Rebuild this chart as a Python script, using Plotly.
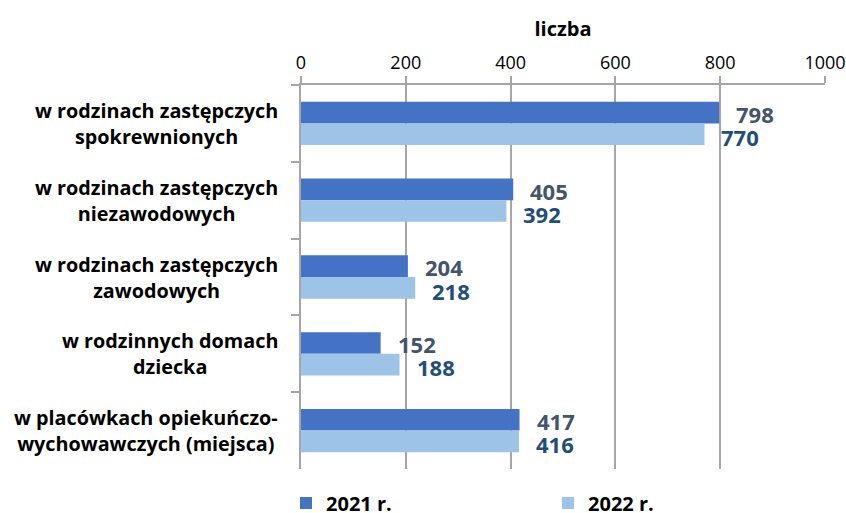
import plotly.graph_objects as go

categories = [
    "w rodzinach zastępczych<br>spokrewnionych",
    "w rodzinach zastępczych<br>niezawodowych",
    "w rodzinach zastępczych<br>zawodowych",
    "w rodzinnych domach<br>dziecka",
    "w placówkach opiekuńczo-<br>wychowawczych (miejsca)",
]
values_2021 = [798, 405, 204, 152, 417]
values_2022 = [770, 392, 218, 188, 416]
series_names = ["2021 r.", "2022 r."]
x_ticks = [0, 200, 400, 600, 800, 1000]

col21 = "#4472C4"
col22 = "#9DC3E6"
lab21 = "#44546A"
lab22 = "#1F4E79"
grid = "#A6A6A6"
font = "Open Sans"

fig = go.Figure()
fig.add_trace(go.Bar(y=categories, x=values_2021, name=f"<b>{series_names[0]}</b>", orientation="h",
                     marker=dict(color=col21, line=dict(width=0))))
fig.add_trace(go.Bar(y=categories, x=values_2022, name=f"<b>{series_names[1]}</b>", orientation="h",
                     marker=dict(color=col22, line=dict(width=0))))

annotations = []
for vals, color, off in [(values_2021, lab21, -0.15), (values_2022, lab22, 0.15)]:
    for i, v in enumerate(vals):
        annotations.append(dict(
            x=v, y=i + off, xref="x", yref="y", text=f"<b>{v}</b>",
            showarrow=False, xanchor="left", yanchor="middle", xshift=15, yshift=-2,
            font=dict(family=font, size=22, color=color)))

for i, c in enumerate(categories):
    annotations.append(dict(
        x=-0.040, y=i, xref="paper", yref="y", text=f"<b>{c}</b>",
        showarrow=False, xanchor="right", yanchor="middle", align="center",
        font=dict(family=font, size=19.8, color="#000")))

fig.update_layout(
    width=846, height=513,
    margin=dict(l=301, r=21, t=85, b=44, autoexpand=False),
    plot_bgcolor="white", paper_bgcolor="white",
    barmode="group", bargap=0.436, bargroupgap=0,
    font=dict(family=font, color="#000000"),
    title=dict(text="<b>liczba</b>", x=0.5, xref="paper", xanchor="center", y=0.943, yanchor="middle",
               font=dict(family=font, size=20, color="#000")),
    xaxis=dict(side="top", range=[0, 1000], tickvals=x_ticks, showgrid=True,
               gridcolor=grid, gridwidth=1.5, showline=True, linecolor=grid, linewidth=1.5,
               ticks="outside", ticklen=7, tickcolor=grid, tickwidth=1.5, automargin=False,
               tickfont=dict(family=font, size=18, color="#000"), zeroline=False, fixedrange=True),
    yaxis=dict(autorange="reversed", tickson="boundaries", ticks="outside", ticklen=8,
               tickcolor=grid, tickwidth=1.5, showline=True, linecolor=grid, linewidth=1.5,
               showticklabels=False, automargin=False),
    legend=dict(orientation="h", x=-0.0286, xanchor="left", y=-0.0885, yanchor="middle",
                entrywidth=217, entrywidthmode="pixels",
                font=dict(family=font, size=20, color="#000"), traceorder="normal"),
    annotations=annotations,
)

fig.write_html("out.html", config={"displayModeBar": False},
               post_script="document.body.style.margin='0';")
